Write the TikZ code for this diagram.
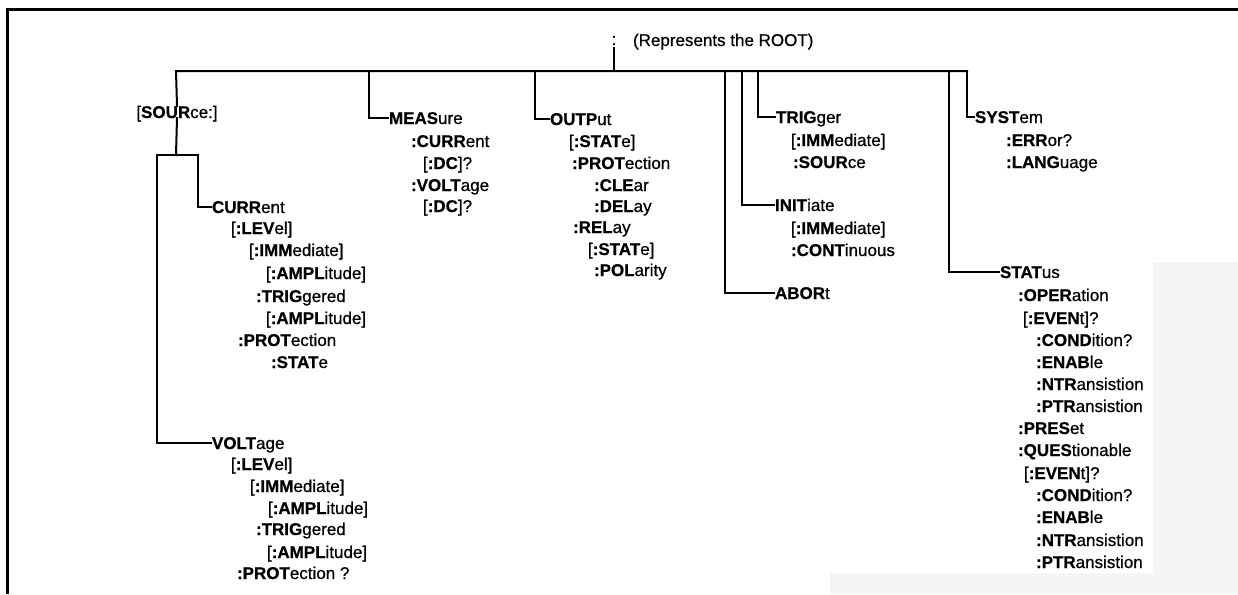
\documentclass[tikz,border=0pt]{standalone}
\usepackage{fontspec}
\setmainfont{Liberation Sans}[FakeBold=0.7]
\newcommand\kw[1]{{\bfseries #1}}
\tikzset{
  cmd/.style={anchor=west, inner xsep=1pt, inner ysep=0pt, outer sep=0pt,
    text height=12pt, text depth=0pt, font=\fontsize{17}{20}\selectfont},
  tree/.style={line width=2pt, line cap=rect},
  frame/.style={line width=3pt}
}
\begin{document}
\begin{tikzpicture}[x=1pt,y=-1pt]
\useasboundingbox (0,0) rectangle (1238,594);
% scan shading
\fill[gray!8] (1153,262) -- (1238,262) -- (1238,594) -- (830,594) -- (830,573) -- (1153,573) -- cycle;
% frame
\draw[frame] (7,594) -- (7,10) -- (1238,10);

% root
\node[cmd, anchor=center] (rootc) at (614,39) {:};
\node[cmd] (rootl) at (632,40) {(Represents the ROOT)};

% bus coordinates
\coordinate (bSrc) at (176,71);
\coordinate (bMeas) at (369,71);
\coordinate (bOutp) at (535,71);
\coordinate (bRoot) at (614,71);
\coordinate (bAbort) at (725,71);
\coordinate (bInit) at (742,71);
\coordinate (bTrig) at (758,71);
\coordinate (bStat) at (949,71);
\coordinate (bSyst) at (967,71);

% SOURce subtree
\node[cmd, anchor=center] (src) at (177,112) {[\kw{SOUR}ce:]};
\node[cmd] (curr) at (211,207) {\kw{CURR}ent};
\node[cmd] (c1) at (230,228) {[\kw{:LEV}el]};
\node[cmd] (c2) at (248,250) {[\kw{:IMM}ediate]};
\node[cmd] (c3) at (265,273) {[\kw{:AMPL}itude]};
\node[cmd] (c4) at (255,296) {\kw{:TRIG}gered};
\node[cmd] (c5) at (265,318) {[\kw{:AMPL}itude]};
\node[cmd] (c6) at (237,340) {\kw{:PROT}ection};
\node[cmd] (c7) at (270,362) {\kw{:STAT}e};

\node[cmd] (volt) at (211,443) {\kw{VOLT}age};
\node[cmd] (v1) at (230,464) {[\kw{:LEV}el]};
\node[cmd] (v2) at (249,486) {[\kw{:IMM}ediate]};
\node[cmd] (v3) at (267,508) {[\kw{:AMPL}itude]};
\node[cmd] (v4) at (255,529) {\kw{:TRIG}gered};
\node[cmd] (v5) at (266,552) {[\kw{:AMPL}itude]};
\node[cmd] (v6) at (236,573) {\kw{:PROT}ection ?};

\coordinate (jS) at (176,155);
\coordinate (jL) at (157,155);
\coordinate (jR) at (198,155);

% MEASure
\node[cmd] (meas) at (388,118) {\kw{MEAS}ure};
\node[cmd] (m1) at (410,141) {\kw{:CURR}ent};
\node[cmd] (m2) at (422,163) {[\kw{:DC}]?};
\node[cmd] (m3) at (410,185) {\kw{:VOLT}age};
\node[cmd] (m4) at (422,206) {[\kw{:DC}]?};

% OUTPut
\node[cmd] (outp) at (549,119) {\kw{OUTP}ut};
\node[cmd] (o1) at (568,141) {[\kw{:STAT}e]};
\node[cmd] (o2) at (571,163) {\kw{:PROT}ection};
\node[cmd] (o3) at (593,185) {\kw{:CLE}ar};
\node[cmd] (o4) at (593,206) {\kw{:DEL}ay};
\node[cmd] (o5) at (572,227) {\kw{:REL}ay};
\node[cmd] (o6) at (587,249) {[\kw{:STAT}e]};
\node[cmd] (o7) at (593,270) {\kw{:POL}arity};

% TRIGger / INITiate / ABORt
\node[cmd] (trig) at (775,117) {\kw{TRIG}ger};
\node[cmd] (t1) at (790,140) {[\kw{:IMM}ediate]};
\node[cmd] (t2) at (792,162) {\kw{:SOUR}ce};
\node[cmd] (init) at (774,205) {\kw{INIT}iate};
\node[cmd] (i1) at (790,228) {[\kw{:IMM}ediate]};
\node[cmd] (i2) at (790,250) {\kw{:CONT}inuous};
\node[cmd] (abort) at (774,293) {\kw{ABOR}t};

% SYSTem
\node[cmd] (syst) at (974,117) {\kw{SYST}em};
\node[cmd] (s1) at (1005,140) {\kw{:ERR}or?};
\node[cmd] (s2) at (1005,162) {\kw{:LANG}uage};

% STATus
\node[cmd] (stat) at (999,272) {\kw{STAT}us};
\node[cmd] (st1) at (1017,295) {\kw{:OPER}ation};
\node[cmd] (st2) at (1022,318) {[\kw{:EVEN}t]?};
\node[cmd] (st3) at (1035,340) {\kw{:COND}ition?};
\node[cmd] (st4) at (1035,362) {\kw{:ENAB}le};
\node[cmd] (st5) at (1035,384) {\kw{:NTR}ansistion};
\node[cmd] (st6) at (1035,406) {\kw{:PTR}ansistion};
\node[cmd] (st7) at (1017,428) {\kw{:PRES}et};
\node[cmd] (st8) at (1017,450) {\kw{:QUES}tionable};
\node[cmd] (st9) at (1023,473) {[\kw{:EVEN}t]?};
\node[cmd] (st10) at (1035,495) {\kw{:COND}ition?};
\node[cmd] (st11) at (1035,517) {\kw{:ENAB}le};
\node[cmd] (st12) at (1035,540) {\kw{:NTR}ansistion};
\node[cmd] (st13) at (1035,562) {\kw{:PTR}ansistion};

% connectors
\draw[tree] (rootc.south) ++(0,3) -- (bRoot);
\draw[tree] (src.north) -- (bSrc) -- (bSyst);
\draw[tree] (src.south) -- (jS);
\draw[tree] (jL) -- (jR);
\draw[tree] (jR) |- (curr.west);
\draw[tree] (jL) |- (volt.west);
\draw[tree] (bMeas) |- (meas.west);
\draw[tree] (bOutp) |- (outp.west);
\draw[tree] (bTrig) |- (trig.west);
\draw[tree] (bInit) |- (init.west);
\draw[tree] (bAbort) |- (abort.west);
\draw[tree] (bSyst) |- (syst.west);
\draw[tree] (bStat) |- (stat.west);
\end{tikzpicture}
\end{document}
